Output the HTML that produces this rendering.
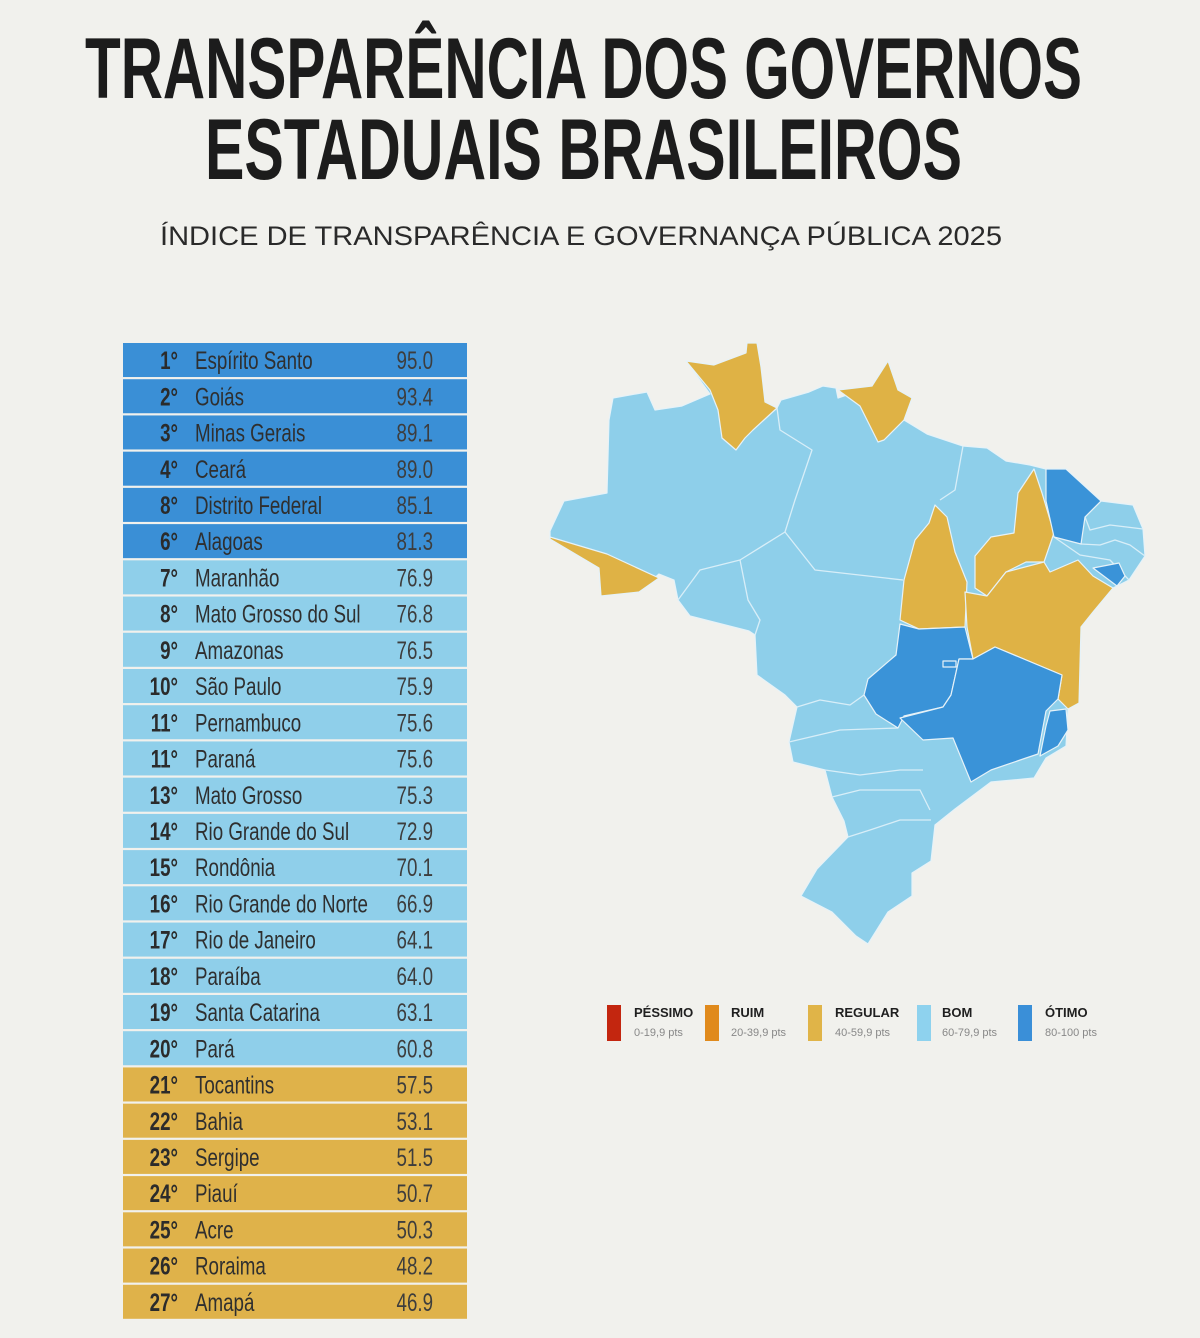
<!DOCTYPE html>
<html><head><meta charset="utf-8"><style>
html,body{margin:0;padding:0;background:#f1f1ed;}
svg{display:block;}
</style></head><body>
<svg width="1200" height="1338" viewBox="0 0 1200 1338" xmlns="http://www.w3.org/2000/svg">
<rect width="1200" height="1338" fill="#f1f1ed"/>
<g font-family="'Liberation Sans Narrow','Liberation Sans',sans-serif" font-weight="bold" fill="#1c1c1c">
<text x="85" y="98" font-size="86" textLength="997" lengthAdjust="spacingAndGlyphs">TRANSPARÊNCIA DOS GOVERNOS</text>
<text x="205" y="179" font-size="86" textLength="757" lengthAdjust="spacingAndGlyphs">ESTADUAIS BRASILEIROS</text>
</g>
<text x="160" y="245" font-family="'Liberation Sans',sans-serif" font-size="27" fill="#2a2a2a" textLength="842" lengthAdjust="spacingAndGlyphs">ÍNDICE DE TRANSPARÊNCIA E GOVERNANÇA PÚBLICA 2025</text>

<g id="table" font-family="'Liberation Sans',sans-serif" font-size="25">
</g>

<!-- map -->
<g stroke="#e6f2f8" stroke-width="1.2" stroke-linejoin="round">
<polygon fill="#8ecfea" points="550,531 564,501 607,493 609,420 613,398 647,392 655,410 682,406 710,394 686,361 714,365 746,353 747,343 757,343 761,367 765,402 777,408 781,400 809,392 823,386 836,388 838,398 872,386 888,361 898,390 912,398 904,420 927,434 963,446 987,448 1006,461 1030,465 1046,469 1066,469 1101,501 1133,505 1143,529 1145,556 1129,580 1113,588 1097,596 1093,612 1081,627 1079,703 1068,709 1066,746 1046,758 1034,778 991,782 955,809 935,825 931,861 912,873 912,896 888,912 868,944 856,936 832,912 801,896 817,869 848,837 844,821 832,797 825,770 793,762 789,742 797,707 785,695 757,675 755,635 749,631 690,616 678,600 674,580 659,574 639,592 601,596 599,568 550,539"/>
<g fill="none" stroke="#d8eef8" stroke-width="1.3">
<polyline points="777,408 780,430 812,450 795,500 785,532 815,570 903,580"/>
<polyline points="785,532 740,560 700,570 678,600"/>
<polyline points="740,560 748,600 760,620 755,635"/>
<polyline points="963,446 955,490 940,500"/>
<polyline points="797,707 820,700 850,705 864,695"/>
<polyline points="789,742 840,730 898,728"/>
<polyline points="848,837 870,830 900,820 931,820"/>
<polyline points="825,770 860,775 900,770 923,770"/>
<polyline points="832,797 860,790 920,790 930,810"/>
<polyline points="1101,501 1085,517 1090,530 1110,525 1143,529"/>
<polyline points="1081,544 1100,545 1115,540 1130,545 1145,556"/>
<polyline points="1054,537 1080,555 1110,560 1129,580"/>
</g>
<polygon fill="#dfb245" points="550,537 607,554 659,578 639,592 601,596 599,568 550,539"/>
<polygon fill="#dfb245" points="686,361 714,365 746,353 747,343 757,343 761,367 765,402 777,408 753,430 745,438 736,450 722,438 718,410 710,390"/>
<polygon fill="#dfb245" points="838,390 872,386 888,361 898,390 912,398 904,420 884,440 878,442 860,406"/>
<polygon fill="#dfb245" points="935,505 947,517 955,552 967,582 965,627 919,629 900,620 904,580 915,540 929,523"/>
<polygon fill="#dfb245" points="1034,469 1042,493 1054,533 1044,562 1026,562 1006,572 987,596 975,588 975,556 991,537 1014,533 1018,493"/>
<polygon fill="#dfb245" points="965,592 987,596 1006,572 1044,562 1050,572 1078,560 1093,576 1113,588 1093,612 1081,627 1079,703 1068,709 1058,699 1062,675 995,647 973,659 967,627"/>
<polygon fill="#3a93d8" points="1046,469 1066,469 1101,501 1085,517 1081,544 1054,537 1046,501"/>
<polygon fill="#3a93d8" points="1093,568 1119,563 1125,576 1117,586"/>
<polygon fill="#3a93d8" points="900,624 919,629 965,627 973,659 959,659 951,695 943,707 904,716 898,728 876,714 864,695 868,679 896,655"/>
<polygon fill="#3a93d8" points="973,659 995,647 1062,675 1058,699 1046,711 1038,754 1026,758 991,770 971,782 953,738 923,740 900,718 943,707 951,695 959,659"/>
<polygon fill="#3a93d8" points="1050,711 1066,709 1068,730 1058,746 1040,756 1046,726"/>
<rect x="943" y="661" width="13" height="6" fill="#3a93d8"/>
</g>

<!-- legend -->
<g font-family="'Liberation Sans Narrow','Liberation Sans',sans-serif">
<rect x="607" y="1005" width="14" height="36" fill="#c3260f"/>
<rect x="705" y="1005" width="14" height="36" fill="#e08a1c"/>
<rect x="808" y="1005" width="14" height="36" fill="#e0b448"/>
<rect x="917" y="1005" width="14" height="36" fill="#8ed2ee"/>
<rect x="1018" y="1005" width="14" height="36" fill="#3a8fd8"/>
<g font-weight="bold" font-size="13" fill="#1f1f1f">
<text x="634" y="1017">PÉSSIMO</text><text x="731" y="1017">RUIM</text><text x="835" y="1017">REGULAR</text><text x="942" y="1017">BOM</text><text x="1045" y="1017">ÓTIMO</text>
</g>
<g font-size="11" fill="#888">
<text x="634" y="1036">0-19,9 pts</text><text x="731" y="1036">20-39,9 pts</text><text x="835" y="1036">40-59,9 pts</text><text x="942" y="1036">60-79,9 pts</text><text x="1045" y="1036">80-100 pts</text>
</g>
</g>
</svg>
<script>
var d=[["1°","Espírito Santo","95.0"],["2°","Goiás","93.4"],["3°","Minas Gerais","89.1"],["4°","Ceará","89.0"],["8°","Distrito Federal","85.1"],["6°","Alagoas","81.3"],["7°","Maranhão","76.9"],["8°","Mato Grosso do Sul","76.8"],["9°","Amazonas","76.5"],["10°","São Paulo","75.9"],["11°","Pernambuco","75.6"],["11°","Paraná","75.6"],["13°","Mato Grosso","75.3"],["14°","Rio Grande do Sul","72.9"],["15°","Rondônia","70.1"],["16°","Rio Grande do Norte","66.9"],["17°","Rio de Janeiro","64.1"],["18°","Paraíba","64.0"],["19°","Santa Catarina","63.1"],["20°","Pará","60.8"],["21°","Tocantins","57.5"],["22°","Bahia","53.1"],["23°","Sergipe","51.5"],["24°","Piauí","50.7"],["25°","Acre","50.3"],["26°","Roraima","48.2"],["27°","Amapá","46.9"]];
var g=document.getElementById("table"),ns="http://www.w3.org/2000/svg",h=(1321-343)/27;
d.forEach(function(r,i){
 var y=343+i*h,c=i<6?"#3a8fd6":(i<20?"#8fcfea":"#dfb24a");
 var re=document.createElementNS(ns,"rect");re.setAttribute("x",123);re.setAttribute("y",y);re.setAttribute("width",344);re.setAttribute("height",h-2.2);re.setAttribute("fill",c);g.appendChild(re);
 var by=y+h/2+8;
 function t(x,s,anchor,w,col){var e=document.createElementNS(ns,"text");e.setAttribute("transform","translate("+x+","+by+") scale(0.75,1)");e.setAttribute("text-anchor",anchor);if(w)e.setAttribute("font-weight",w);e.setAttribute("fill",col);e.textContent=s;g.appendChild(e);}
 t(178,r[0],"end","bold","#2b2b2b");
 t(195,r[1],"start",null,"#2f2f2f");
 t(433,r[2],"end",null,"#3d3d3d");
});
</script>
</body></html>
